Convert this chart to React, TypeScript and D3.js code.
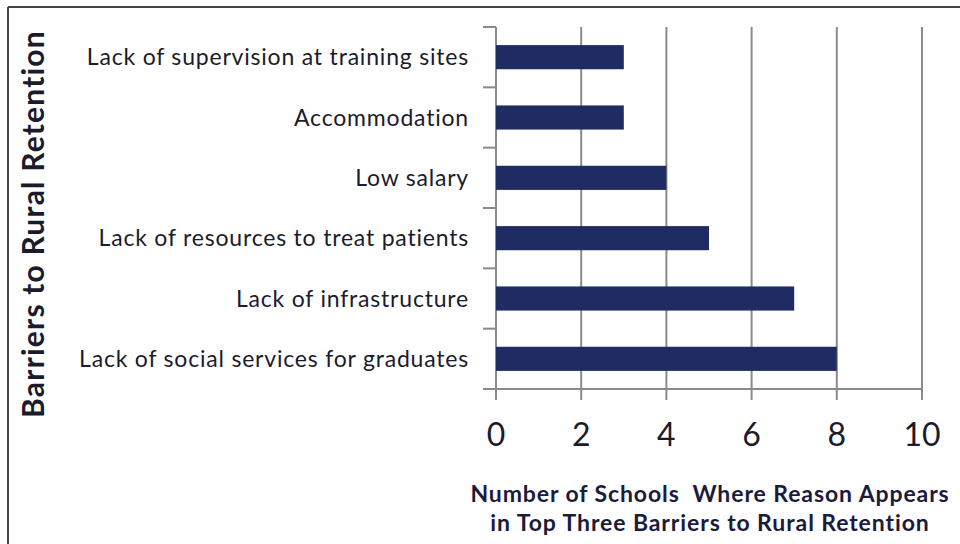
import * as d3 from "d3";

const categories = [
  "Lack of supervision at training sites",
  "Accommodation",
  "Low salary",
  "Lack of resources to treat patients",
  "Lack of infrastructure",
  "Lack of social services for graduates",
];
const counts = [3, 3, 4, 5, 7, 8];
const xTicks = [0, 2, 4, 6, 8, 10];
const yTitle = "Barriers to Rural Retention";
const xTitle = ["Number of Schools  Where Reason Appears", "in Top Three Barriers to Rural Retention"];

const W = 960;
const H = 544;
const plot = { left: 496, right: 922, top: 27, bottom: 389 };
const font = "Lato, 'Open Sans', sans-serif";

export default function App() {
  const x = d3.scaleLinear().domain([0, 10]).range([plot.left, plot.right]);
  const y = d3.scaleBand().domain(categories).range([plot.top, plot.bottom]).paddingInner(0.6).paddingOuter(0.3);
  const bandEdges = d3.range(categories.length + 1).map((i) => plot.top + (i * (plot.bottom - plot.top)) / categories.length);

  return (
    <svg width={W} height={H} style={{ position: "fixed", left: 0, top: 0, background: "#fff" }}>
      <rect x={0} y={0} width={W} height={H} fill="#fff" />
      {/* outer frame */}
      <line x1={8} x2={W} y1={7} y2={7} stroke="#444" strokeWidth={2} />
      <line x1={8} x2={8} y1={7} y2={H} stroke="#444" strokeWidth={2} />

      {/* gridlines */}
      {xTicks.map((t) => (
        <line key={t} x1={x(t)} x2={x(t)} y1={plot.top} y2={plot.bottom + 11} stroke="#8a8a8a" strokeWidth={2} />
      ))}
      {/* category axis ticks */}
      {bandEdges.map((b, i) => (
        <line key={i} x1={plot.left - 13} x2={plot.left} y1={b} y2={b} stroke="#8a8a8a" strokeWidth={2} />
      ))}
      <line x1={plot.left - 13} x2={plot.right} y1={plot.bottom} y2={plot.bottom} stroke="#8a8a8a" strokeWidth={2} />

      {/* bars */}
      {categories.map((c, i) => (
        <rect key={c} x={x(0)} y={y(c)} width={x(counts[i]) - x(0)} height={y.bandwidth()} fill="#1f2c64" />
      ))}

      {/* category labels */}
      {categories.map((c) => (
        <text key={c} x={469} y={(y(c) ?? 0) + y.bandwidth() / 2} dy="0.36em" textAnchor="end"
          fontFamily={font} fontSize={23} letterSpacing={0.8} fill="#1b1b2b">
          {c}
        </text>
      ))}

      {/* x tick labels */}
      {xTicks.map((t) => (
        <text key={t} x={x(t)} y={434} dy="0.36em" textAnchor="middle" fontFamily={font} fontSize={32} fill="#1b1b2b">
          {t}
        </text>
      ))}

      {/* axis titles */}
      <text transform={`translate(33, ${224}) rotate(-90)`} textAnchor="middle" dy="0.36em"
        fontFamily={font} fontSize={30} fontWeight="bold" letterSpacing={1.2} fill="#1b1b2b">
        {yTitle}
      </text>
      {xTitle.map((line, i) => (
        <text key={i} x={710} y={494 + i * 29} dy="0.36em" textAnchor="middle" fontFamily={font}
          fontSize={23} fontWeight="bold" letterSpacing={0.9} fill="#1b1b3b" style={{ whiteSpace: "pre" }}>
          {line}
        </text>
      ))}
    </svg>
  );
}
